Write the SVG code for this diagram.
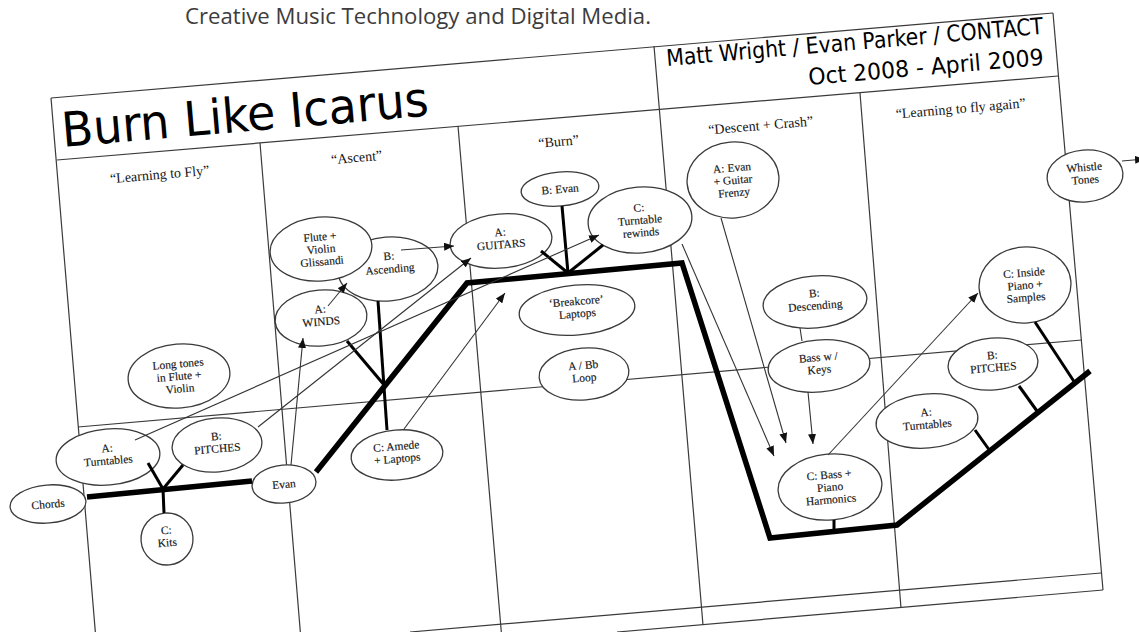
<svg xmlns="http://www.w3.org/2000/svg" width="1139" height="632" viewBox="0 0 1139 632">
<defs>
<style>
.fr{stroke:#3a3a3a;stroke-width:1.2;fill:none}
.nd ellipse{fill:#fff;stroke:#3a3a3a;stroke-width:1.3}
.nd text{font-family:"Liberation Serif","Times New Roman",serif;font-size:11.5px;fill:#151515;text-anchor:middle;stroke:#151515;stroke-width:0.15}
.hd{font-family:"Liberation Serif","Times New Roman",serif;font-size:14px;fill:#151515;text-anchor:middle}
.ttl{font-family:"DejaVu Sans","Noto Sans",sans-serif;fill:#000}
.th{stroke:#000;stroke-width:5.5;fill:none;stroke-linejoin:miter}
.br{stroke:#000;stroke-width:3;fill:none}
.ar{stroke:#333;stroke-width:1.1;fill:none;marker-end:url(#ah)}
.ln{stroke:#333;stroke-width:1.1;fill:none}
</style>
<marker id="ah" markerUnits="userSpaceOnUse" markerWidth="10" markerHeight="8" refX="10" refY="4" orient="auto" viewBox="0 0 10 8">
<path d="M0,0 L10,4 L0,8 Z" fill="#111"/>
</marker>
</defs>
<rect width="1139" height="632" fill="#fff"/>
<text x="185" y="24" font-family="'Open Sans','Noto Sans',sans-serif" font-size="21" fill="#3c3c3c" textLength="466" lengthAdjust="spacingAndGlyphs">Creative Music Technology and Digital Media.</text>

<g id="frame">
<line class="fr" x1="51" y1="98" x2="1053" y2="13"/>
<line class="fr" x1="57" y1="160" x2="1058" y2="76"/>
<line class="fr" x1="51" y1="98" x2="96" y2="640"/>
<line class="fr" x1="260" y1="143" x2="301" y2="640"/>
<line class="fr" x1="458" y1="126" x2="502" y2="640"/>
<line class="fr" x1="654" y1="46" x2="703" y2="625"/>
<line class="fr" x1="860" y1="93" x2="901" y2="608"/>
<line class="fr" x1="1053" y1="13" x2="1103" y2="590"/>
<line class="fr" x1="78" y1="427" x2="1082" y2="340"/>
<line class="fr" x1="410" y1="632" x2="1101" y2="573"/>
<line class="fr" x1="617" y1="632" x2="1103" y2="590"/>
<text class="ttl" x="63" y="147" font-size="48" textLength="368" lengthAdjust="spacingAndGlyphs" transform="rotate(-4.9 63 147)">Burn Like Icarus</text>
<text class="ttl" x="667" y="66" font-size="23" textLength="378" lengthAdjust="spacingAndGlyphs" transform="rotate(-4.9 667 66)">Matt Wright / Evan Parker / CONTACT</text>
<text class="ttl" x="809" y="85" font-size="23" textLength="236" lengthAdjust="spacingAndGlyphs" transform="rotate(-4.9 809 85)">Oct 2008 - April 2009</text>
<text class="hd" x="160" y="179" transform="rotate(-4.9 160 179)">“Learning to Fly”</text>
<text class="hd" x="357" y="162" transform="rotate(-4.9 357 162)">“Ascent”</text>
<text class="hd" x="559" y="146" transform="rotate(-4.9 559 146)">“Burn”</text>
<text class="hd" x="761" y="130" transform="rotate(-4.9 761 130)">“Descent + Crash”</text>
<text class="hd" x="961" y="113" transform="rotate(-4.9 961 113)">“Learning to fly again”</text>
</g>

<g id="n-longtones" class="nd" transform="rotate(-4.9 179 376)"><ellipse cx="179" cy="376" rx="51" ry="32"/><text x="179" y="367.5">Long tones</text><text x="179" y="380">in Flute +</text><text x="179" y="392.5">Violin</text></g>
<g id="n-turntables-a" class="nd" transform="rotate(-4.9 108 457)"><ellipse cx="108" cy="457" rx="52" ry="28"/><text x="108" y="452">A:</text><text x="108" y="464.5">Turntables</text></g>
<g id="n-pitches-b" class="nd" transform="rotate(-4.9 217 445)"><ellipse cx="217" cy="445" rx="45" ry="27"/><text x="217" y="440">B:</text><text x="217" y="452.5">PITCHES</text></g>
<g id="n-chords" class="nd" transform="rotate(-4.9 48 504)"><ellipse cx="48" cy="504" rx="38" ry="19"/><text x="48" y="508">Chords</text></g>
<g id="n-kits" class="nd" transform="rotate(-4.9 167 539)"><ellipse cx="167" cy="539" rx="26" ry="26"/><text x="167" y="534">C:</text><text x="167" y="546.5">Kits</text></g>
<g id="n-evan" class="nd" transform="rotate(-4.9 284 484)"><ellipse cx="284" cy="484" rx="32" ry="19"/><text x="284" y="488">Evan</text></g>
<g id="n-winds" class="nd" transform="rotate(-4.9 321 318)"><ellipse cx="321" cy="318" rx="46" ry="28"/><text x="321" y="313">A:</text><text x="321" y="325.5">WINDS</text></g>
<g id="n-ascending" class="nd" transform="rotate(-4.9 388 269)"><ellipse cx="388" cy="269" rx="50" ry="32"/><text x="390" y="260">B:</text><text x="390" y="273">Ascending</text></g>
<g id="n-glissandi" class="nd" transform="rotate(-4.9 321 249)"><ellipse cx="321" cy="249" rx="51" ry="32"/><text x="321" y="240.5">Flute +</text><text x="321" y="253">Violin</text><text x="321" y="265.5">Glissandi</text></g>
<g id="n-guitars" class="nd" transform="rotate(-4.9 501 241)"><ellipse cx="501" cy="241" rx="51" ry="27"/><text x="501" y="236">A:</text><text x="501" y="248.5">GUITARS</text></g>
<g id="n-bevan" class="nd" transform="rotate(-4.9 560 189)"><ellipse cx="560" cy="189" rx="39" ry="17"/><text x="560" y="193">B: Evan</text></g>
<g id="n-rewinds" class="nd" transform="rotate(-4.9 640 220)"><ellipse cx="640" cy="220" rx="52" ry="33"/><text x="640" y="211.5">C:</text><text x="640" y="224">Turntable</text><text x="640" y="236.5">rewinds</text></g>
<g id="n-breakcore" class="nd" transform="rotate(-4.9 577 310)"><ellipse cx="577" cy="310" rx="58" ry="25"/><text x="577" y="305">‘Breakcore’</text><text x="577" y="317.5">Laptops</text></g>
<g id="n-loop" class="nd" transform="rotate(-4.9 584 374)"><ellipse cx="584" cy="374" rx="45" ry="26"/><text x="584" y="369">A / Bb</text><text x="584" y="381.5">Loop</text></g>
<g id="n-amede" class="nd" transform="rotate(-4.9 397 455)"><ellipse cx="397" cy="455" rx="46" ry="25"/><text x="397" y="450">C: Amede</text><text x="397" y="462.5">+ Laptops</text></g>
<g id="n-frenzy" class="nd" transform="rotate(-4.9 733 180)"><ellipse cx="733" cy="180" rx="46" ry="38"/><text x="733" y="171.5">A: Evan</text><text x="733" y="184">+ Guitar</text><text x="733" y="196.5">Frenzy</text></g>
<g id="n-whistle" class="nd" transform="rotate(-4.9 1085 176)"><ellipse cx="1085" cy="176" rx="38" ry="26"/><text x="1085" y="171">Whistle</text><text x="1085" y="183.5">Tones</text></g>
<g id="n-descending" class="nd" transform="rotate(-4.9 815 302)"><ellipse cx="815" cy="302" rx="52" ry="26"/><text x="815" y="297">B:</text><text x="815" y="309.5">Descending</text></g>
<g id="n-basskeys" class="nd" transform="rotate(-4.9 819 366)"><ellipse cx="819" cy="366" rx="51" ry="26"/><text x="819" y="361">Bass w /</text><text x="819" y="373.5">Keys</text></g>
<g id="n-insidepiano" class="nd" transform="rotate(-4.9 1025 285)"><ellipse cx="1025" cy="285" rx="46" ry="38"/><text x="1025" y="276.5">C: Inside</text><text x="1025" y="289">Piano +</text><text x="1025" y="301.5">Samples</text></g>
<g id="n-pitches-b2" class="nd" transform="rotate(-4.9 993 364)"><ellipse cx="993" cy="364" rx="45" ry="26"/><text x="993" y="359">B:</text><text x="993" y="371.5">PITCHES</text></g>
<g id="n-turntables-a2" class="nd" transform="rotate(-4.9 927 421)"><ellipse cx="927" cy="421" rx="51" ry="27"/><text x="927" y="416">A:</text><text x="927" y="428.5">Turntables</text></g>
<g id="n-harmonics" class="nd" transform="rotate(-4.9 830 487)"><ellipse cx="830" cy="487" rx="52" ry="33"/><text x="830" y="478.5">C: Bass +</text><text x="830" y="491">Piano</text><text x="830" y="503.5">Harmonics</text></g>

<g id="connectors">
<polyline class="th" points="87,497 252,481"/>
<polyline class="th" points="316,472 467,283 682,263 770,538 897,525 1090,371"/>
<line class="br" x1="148" y1="463" x2="163" y2="489"/>
<line class="br" x1="183" y1="465" x2="163" y2="489"/>
<line class="br" x1="163" y1="489" x2="164" y2="513"/>
<line class="br" x1="347" y1="341" x2="385" y2="386"/>
<line class="br" x1="378" y1="301" x2="387" y2="430"/>
<line class="br" x1="562" y1="206" x2="568" y2="273"/>
<line class="br" x1="541" y1="251" x2="568" y2="273"/>
<line class="br" x1="603" y1="245" x2="568" y2="273"/>
<line class="br" x1="834" y1="520" x2="834" y2="533"/>
<line class="br" x1="975" y1="430" x2="990" y2="451"/>
<line class="br" x1="1019" y1="386" x2="1037" y2="411"/>
<line class="br" x1="1035" y1="322" x2="1075" y2="383"/>
<line class="ar" x1="135" y1="440" x2="599" y2="235"/>
<line class="ar" x1="258" y1="427" x2="471" y2="258"/>
<line class="ar" x1="291" y1="465" x2="303" y2="338"/>
<line class="ar" x1="328" y1="306" x2="347" y2="283"/>
<line class="ar" x1="401" y1="250" x2="454" y2="246"/>
<line class="ar" x1="404" y1="429" x2="505" y2="293"/>
<line class="ar" x1="682" y1="244" x2="774" y2="456"/>
<line class="ar" x1="721" y1="218" x2="786" y2="443"/>
<line class="ar" x1="808" y1="392" x2="813" y2="444"/>
<line class="ar" x1="828" y1="455" x2="978" y2="293"/>
<line class="ar" x1="1122" y1="161" x2="1145" y2="159"/>
<line class="ln" x1="800" y1="328" x2="802" y2="341"/>
</g>
</svg>
